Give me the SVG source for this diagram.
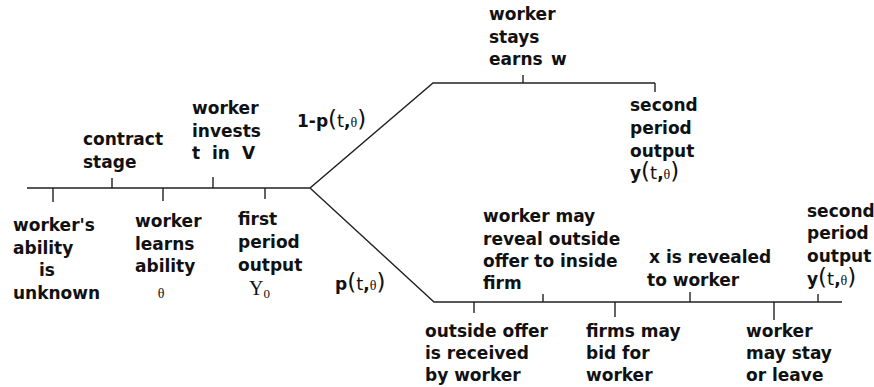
<svg xmlns="http://www.w3.org/2000/svg" width="874" height="387" viewBox="0 0 874 387">
<style>
.t{font-family:"DejaVu Sans",sans-serif;font-size:17px;font-weight:bold;fill:#111}
.p{font-weight:normal;font-size:23px}
.n{font-weight:normal;font-size:18px}
.g{font-family:"Liberation Serif",serif;font-weight:normal;font-size:14px}
.s{font-family:"Liberation Serif",serif;font-weight:normal}
.l{stroke:#222;stroke-width:1.4;fill:none}
</style>
<rect width="874" height="387" fill="#fff"/>
<g id="connectors" class="l">
<path d="M27 188H310L433 83H655M310 188L434 302H842"/>
<path d="M53 188V202M112 188V178M163 188V201M213 188V177M265 188V199"/>
<path d="M523 83V75M655 83V92"/>
<path d="M474 302V313M543 302V294M615 302V317M690 302V292M774 302V320M818 302V294"/>
</g>
<g id="n-contract" class="t"><text x="83" y="145">contract</text><text x="83" y="167.5">stage</text></g>
<g id="n-invests" class="t"><text x="192" y="114">worker</text><text x="192" y="137">invests</text><text y="159"><tspan x="192">t</tspan><tspan x="212">in</tspan><tspan x="242">V</tspan></text></g>
<g id="n-unknown" class="t"><text x="13" y="231">worker's</text><text x="13" y="253.5">ability</text><text x="39" y="276">is</text><text x="13" y="299">unknown</text></g>
<g id="n-learns" class="t"><text x="135" y="227">worker</text><text x="135" y="250">learns</text><text x="135" y="272">ability</text><text class="g" x="161" y="298" text-anchor="middle">θ</text></g>
<g id="n-first" class="t"><text x="249" y="295"><tspan class="s" font-size="20">Y</tspan><tspan class="s" font-size="13" dy="3">0</tspan></text><text x="238" y="225">first</text><text x="238" y="248">period</text><text x="238" y="271">output</text></g>
<g id="n-upper-prob" class="t"><text x="297" y="127">1-p<tspan class="p">(</tspan><tspan class="n">t</tspan>,<tspan class="g">θ</tspan><tspan class="p">)</tspan></text></g>
<g id="n-lower-prob" class="t"><text x="335" y="290">p<tspan class="p">(</tspan><tspan class="n">t</tspan>,<tspan class="g">θ</tspan><tspan class="p">)</tspan></text></g>
<g id="n-stays" class="t"><text x="489" y="20">worker</text><text x="489" y="42.5">stays</text><text y="65"><tspan x="489">earns</tspan><tspan x="551">w</tspan></text></g>
<g id="n-second-upper" class="t"><text x="630" y="111">second</text><text x="630" y="134">period</text><text x="630" y="156.5">output</text><text x="630" y="179">y<tspan class="p">(</tspan><tspan class="n">t</tspan>,<tspan class="g">θ</tspan><tspan class="p">)</tspan></text></g>
<g id="n-reveal" class="t"><text x="483" y="222">worker may</text><text x="483" y="245">reveal outside</text><text x="483" y="267">offer to inside</text><text x="483" y="289">firm</text></g>
<g id="n-x" class="t"><text x="649" y="263">x is revealed</text><text x="647" y="286">to worker</text></g>
<g id="n-second-lower" class="t"><text x="807" y="217">second</text><text x="807" y="239">period</text><text x="807" y="262">output</text><text x="807" y="285">y<tspan class="p">(</tspan><tspan class="n">t</tspan>,<tspan class="g">θ</tspan><tspan class="p">)</tspan></text></g>
<g id="n-offer" class="t"><text x="425" y="337">outside offer</text><text x="425" y="359">is received</text><text x="425" y="381">by worker</text></g>
<g id="n-bid" class="t"><text x="586" y="337">firms may</text><text x="586" y="359">bid for</text><text x="586" y="381">worker</text></g>
<g id="n-leave" class="t"><text x="746" y="337">worker</text><text x="746" y="359">may stay</text><text x="746" y="381">or leave</text></g>
</svg>
